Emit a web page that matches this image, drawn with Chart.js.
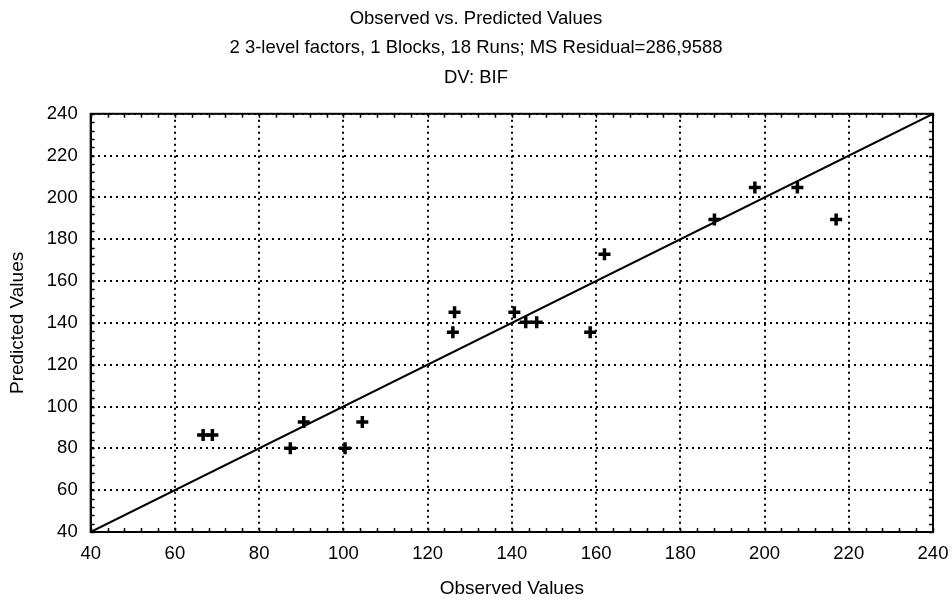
<!DOCTYPE html>
<html>
<head>
<meta charset="utf-8">
<script src="https://cdn.jsdelivr.net/npm/chart.js@4.4.1/dist/chart.umd.min.js"></script>
<style>
  html, body { margin: 0; padding: 0; background: #fff; }
  #wrap { width: 952px; height: 601px; position: relative; }
</style>
</head>
<body>
<div id="wrap"><canvas id="chart"></canvas></div>
<script>
// observed vs predicted
const observed = [66.7, 68.9, 87.4, 90.6, 100.4, 104.5, 126.0, 126.4, 140.6, 143.3, 145.9, 158.6, 162.0, 188.1, 197.7, 207.8, 217.0];
const predicted = [86.4, 86.4, 80.0, 92.6, 80.0, 92.6, 135.5, 145.1, 145.1, 140.3, 140.3, 135.5, 172.8, 189.4, 204.8, 204.8, 189.4];

// reference line y = x
const lineX = [40, 240];
const lineY = [40, 240];

const axisMin = 40;
const axisMax = 240;
const majorStep = 20;
const minorStep = 4;

const FONT = "'Liberation Sans', Arial, sans-serif";

const titleLines = [
  'Observed vs. Predicted Values',
  '2 3-level factors, 1 Blocks, 18 Runs; MS Residual=286,9588',
  'DV: BIF',
];

// box ticks on all four sides, pointing inward
const boxTicks = {
  id: 'boxTicks',
  afterDatasetsDraw(chart) {
    const { ctx, chartArea: a, scales: { x, y } } = chart;
    ctx.save();
    ctx.strokeStyle = '#000';
    ctx.lineWidth = 1.5;
    ctx.beginPath();
    for (let v = axisMin; v <= axisMax; v += minorStep) {
      const px = Math.round(x.getPixelForValue(v)) + 0.5;
      ctx.moveTo(px, a.bottom); ctx.lineTo(px, a.bottom - 4);
      ctx.moveTo(px, a.top); ctx.lineTo(px, a.top + 4);
      const py = Math.round(y.getPixelForValue(v)) + 0.5;
      ctx.moveTo(a.left, py); ctx.lineTo(a.left + 4, py);
      ctx.moveTo(a.right, py); ctx.lineTo(a.right - 4, py);
    }
    ctx.stroke();
    ctx.lineWidth = 2;
    ctx.strokeRect(a.left, a.top, a.right - a.left, a.bottom - a.top);
    ctx.restore();
  },
};

const gridOpts = {
  color: '#000',
  lineWidth: 2,
  drawTicks: false,
};

new Chart(document.getElementById('chart').getContext('2d'), {
  type: 'scatter',
  data: {
    datasets: [
      {
        label: 'Observed vs predicted',
        data: observed.map((v, i) => ({ x: v, y: predicted[i] })),
        pointStyle: 'cross',
        pointRadius: 6,
        pointBorderWidth: 3.5,
        borderColor: '#000',
        backgroundColor: '#000',
      },
      {
        label: 'y = x',
        type: 'line',
        data: lineX.map((v, i) => ({ x: v, y: lineY[i] })),
        borderColor: '#000',
        borderWidth: 2,
        pointRadius: 0,
        fill: false,
      },
    ],
  },
  options: {
    responsive: true,
    maintainAspectRatio: false,
    animation: false,
    layout: { padding: { top: 0, right: 4, bottom: 1, left: 4 } },
    plugins: {
      legend: { display: false },
      tooltip: { enabled: false },
      title: {
        display: true,
        text: titleLines,
        color: '#000',
        font: { family: FONT, size: 18.5, weight: 'normal', lineHeight: 1.6 },
        padding: { top: 4, bottom: 21 },
      },
    },
    scales: {
      x: {
        type: 'linear',
        min: axisMin,
        max: axisMax,
        ticks: { stepSize: majorStep, color: '#000', font: { family: FONT, size: 18.5 }, padding: 11 },
        grid: gridOpts,
        border: { display: true, color: '#000', width: 2, dash: [2, 4] },
        title: {
          display: true,
          text: 'Observed Values',
          color: '#000',
          font: { family: FONT, size: 19 },
          padding: { top: 1, bottom: 0 },
        },
        // room on the right for the last tick label
        afterFit(scale) { scale.paddingRight = 19; },
      },
      y: {
        type: 'linear',
        min: axisMin,
        max: axisMax,
        ticks: { stepSize: majorStep, color: '#000', font: { family: FONT, size: 18.5 }, padding: 13 },
        grid: gridOpts,
        border: { display: true, color: '#000', width: 2, dash: [2, 4] },
        title: {
          display: true,
          text: 'Predicted Values',
          color: '#000',
          font: { family: FONT, size: 19 },
          padding: { top: 2, bottom: 5 },
        },
      },
    },
  },
  plugins: [boxTicks],
});
</script>
</body>
</html>
